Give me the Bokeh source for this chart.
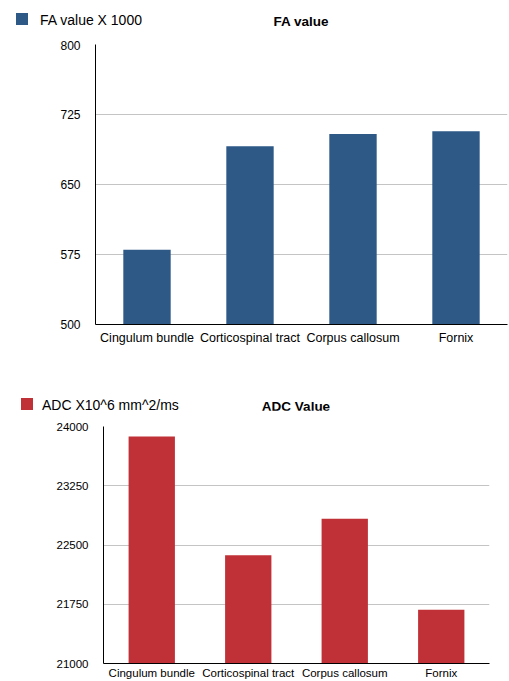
from bokeh.plotting import figure
from bokeh.layouts import column
from bokeh.models import FixedTicker, ColumnDataSource, Div
from bokeh.embed import file_html
from bokeh.resources import INLINE

regions = ["Cingulum bundle", "Corticospinal tract", "Corpus callosum", "Fornix"]
fa_values = [580, 691, 704, 707]
adc_values = [23875, 22370, 22833, 21680]
fa_ticks = [500, 575, 650, 725, 800]
adc_ticks = [21000, 21750, 22500, 23250, 24000]
fa_color = "#2e5987"
adc_color = "#c03137"

FONT = "Liberation Sans"


def header(title, legend_label, color, sq_left, sq_top, txt_left, txt_top,
           frame_left, frame_width, title_top):
    html = (
        f'<div style="position:relative;width:509px;height:40px;'
        f'font-family:\'{FONT}\';color:black;">'
        f'<span style="position:absolute;left:{sq_left}px;top:{sq_top}px;'
        f'width:12px;height:12px;background:{color};"></span>'
        f'<span style="position:absolute;left:{txt_left}px;top:{txt_top}px;'
        f'font-size:14px;line-height:17px;white-space:nowrap;">{legend_label}</span>'
        f'<span style="position:absolute;left:{frame_left}px;width:{frame_width}px;'
        f'top:{title_top}px;text-align:center;font-size:13.5px;font-weight:bold;'
        f'line-height:17px;white-space:nowrap;">{title}</span>'
        f'</div>'
    )
    return Div(text=html, width=509, height=40, margin=0)


def make_chart(values, ticks, color, width, height, borders, bar_width,
               tick_size, cat_size, cat_standoff):
    src = ColumnDataSource(dict(x=regions, top=values))
    p = figure(x_range=regions, y_range=(ticks[0], ticks[-1]),
               width=width, height=height, output_backend="svg",
               toolbar_location=None, margin=0)
    p.min_border_left, p.min_border_right, p.min_border_top, p.min_border_bottom = borders
    p.vbar(x="x", top="top", bottom=ticks[0], width=bar_width, source=src,
           fill_color=color, line_color=None)
    p.outline_line_color = None
    p.xgrid.grid_line_color = None
    p.ygrid.grid_line_color = "#c4c4c4"
    p.ygrid.grid_line_width = 1
    p.yaxis.ticker = FixedTicker(ticks=ticks)
    for ax in (p.xaxis[0], p.yaxis[0]):
        ax.axis_line_color = "black"
        ax.axis_line_width = 1
        ax.major_tick_in = 0
        ax.major_tick_out = 0
        ax.minor_tick_in = 0
        ax.minor_tick_out = 0
        ax.major_label_text_font = FONT
        ax.major_label_text_color = "black"
    p.yaxis.major_label_text_font_size = tick_size
    p.yaxis.major_label_standoff = 15
    p.xaxis.major_label_text_font_size = cat_size
    p.xaxis.major_label_standoff = cat_standoff
    return p


top_head = header("FA value", "FA value X 1000", fa_color, 16, 13, 40, 12, 95, 412, 13)
top = make_chart(fa_values, fa_ticks, fa_color, 509, 330, (95, 2, 4, 46),
                 0.46, "12px", "12.5px", 6)
bottom_head = header("ADC Value", "ADC X10^6 mm^2/ms", adc_color, 21, 28, 42, 27, 103, 386, 28)
bottom = make_chart(adc_values, adc_ticks, adc_color, 509, 271, (103, 20, 16, 16),
                    0.48, "11.5px", "11.5px", 3)

chart1 = column(top_head, top, spacing=0, margin=0)
chart2 = column(bottom_head, bottom, spacing=0, margin=0)
open("out.html", "w").write(file_html([chart1, chart2], INLINE))
